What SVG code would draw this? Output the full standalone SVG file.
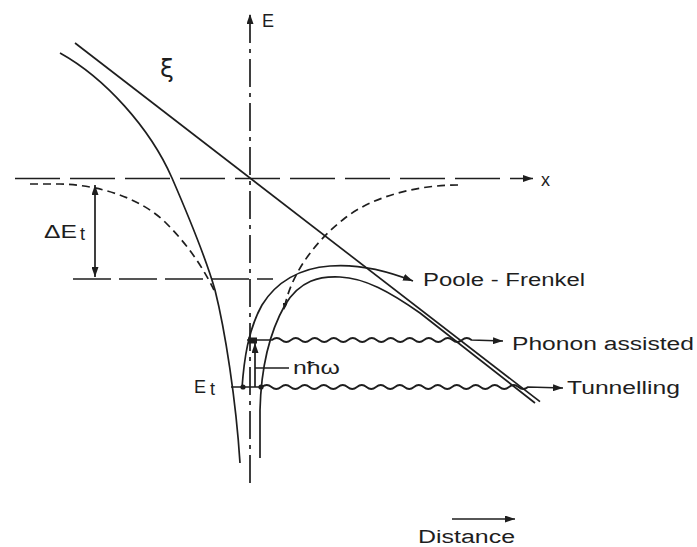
<svg xmlns="http://www.w3.org/2000/svg" width="697" height="547" viewBox="0 0 697 547">
<style>
  .ln{fill:none;stroke:#1e1e1e;stroke-width:1.7;stroke-linecap:butt}
  .dash{stroke-dasharray:8 5}
  .axis-x{stroke-dasharray:45 10}
  .axis-e{stroke-dasharray:28 6 4 6}
  .lvl{stroke-dasharray:38 8}
  .txt{font-family:"Liberation Sans","DejaVu Sans",Arial,sans-serif;fill:#1e1e1e;font-size:18px}
  .greek{font-family:"DejaVu Sans","Liberation Sans",sans-serif;fill:#1e1e1e}
  .dot{fill:#1e1e1e}
</style>
<defs>
  <marker id="ah" markerUnits="userSpaceOnUse" markerWidth="10" markerHeight="7" refX="10" refY="3.5" orient="auto-start-reverse">
    <path d="M0,0 L10,3.5 L0,7 z" fill="#1e1e1e"/>
  </marker>
  <marker id="ahs" markerUnits="userSpaceOnUse" markerWidth="7" markerHeight="5" refX="7" refY="2.5" orient="auto-start-reverse">
    <path d="M0,0 L7,2.5 L0,5 z" fill="#1e1e1e"/>
  </marker>
</defs>
<rect width="697" height="547" fill="#ffffff"/>

<g id="axes">
  <path class="ln axis-e" d="M250,483 L250,14" marker-end="url(#ah)"/>
  <path class="ln axis-x" d="M15,178.5 L533,178.5" marker-end="url(#ah)"/>
  <path class="ln lvl" d="M73,279 L273,279"/>
</g>

<g id="connectors">
  <path id="xi-line" class="ln" d="M75,43 L540,401.7"/>
  <path id="left-solid" class="ln" d="M60,53 C105,78 150,128 172,178 C185,208 205,255 215,290 C225,330 236,400 240,463"/>
  <path id="left-dashed" class="ln dash" d="M30,184 L60,184 C100,185 140,198 165,222 C185,242 200,262 214,290"/>
  <path id="right-dashed" class="ln dash" d="M458,185 C420,185 375,195 345,218 C315,241 290,275 284,310" marker-end="url(#ahs)"/>
  <path id="outer-curve" class="ln" d="M242,388 C244,360 248,330 262,305 C276,282 300,268 330,266 C355,264 385,270 413,281" marker-end="url(#ah)"/>
  <path id="inner-curve" class="ln" d="M260,458 L260,410 C261,370 268,335 285,305 C300,280 320,276 340,277 C365,278 390,292 420,313 L535,403"/>
  <path id="dEt-arrow" class="ln" d="M95,185 L95,277" marker-start="url(#ah)" marker-end="url(#ah)"/>
  <path id="phonon-path" class="ln" d="M247,340 L272,340 q4.75,-4 9.5,0 t9.5,0 t9.5,0 t9.5,0 t9.5,0 t9.5,0 t9.5,0 t9.5,0 t9.5,0 t9.5,0 t9.5,0 t9.5,0 t9.5,0 t9.5,0 t9.5,0 t9.5,0 t9.5,0 t9.5,0 t9.5,0 t9.5,0 t9.5,0 L503,341" marker-end="url(#ah)"/>
  <path id="tunnel-path" class="ln" d="M231,387 L262,387 q4.75,-4 9.5,0 t9.5,0 t9.5,0 t9.5,0 t9.5,0 t9.5,0 t9.5,0 t9.5,0 t9.5,0 t9.5,0 t9.5,0 t9.5,0 t9.5,0 t9.5,0 t9.5,0 t9.5,0 t9.5,0 t9.5,0 t9.5,0 t9.5,0 t9.5,0 t9.5,0 t9.5,0 t9.5,0 t9.5,0 t9.5,0 t9.5,0 t9.5,0 L563,388" marker-end="url(#ah)"/>
  <path id="nhw-arrow" class="ln" d="M255,387 L255,343" marker-end="url(#ah)"/>
  <path id="nhw-tick" class="ln" d="M255,368 L289,368"/>
  <path id="distance-arrow" class="ln" d="M452,519 L515,519" marker-end="url(#ah)"/>
</g>

<g id="markers">
  <circle class="dot" cx="243" cy="387" r="2.6"/>
  <circle class="dot" cx="261" cy="387" r="2.6"/>
  <rect class="dot" x="248" y="337.5" width="9" height="6"/>
</g>

<g id="labels">
  <text id="lbl-E" class="txt" x="262" y="27" font-size="17">E</text>
  <text id="lbl-x" class="txt" x="541" y="186" font-size="20">x</text>
  <text id="lbl-xi" class="greek" x="160" y="77" font-size="25">ξ</text>
  <g id="lbl-dEt"><text class="txt" x="44" y="238" font-size="19" textLength="33" lengthAdjust="spacingAndGlyphs">ΔE</text><text class="txt" x="80" y="240" font-size="12">t</text></g>
  <g id="lbl-Et"><text class="txt" x="194" y="393" font-size="19">E</text><text class="txt" x="210" y="395" font-size="12">t</text></g>
  <text id="lbl-nhw" class="txt" x="293" y="374" font-size="20" textLength="47" lengthAdjust="spacingAndGlyphs">nħω</text>
  <text id="lbl-pf" class="txt" x="423" y="286" textLength="162" lengthAdjust="spacingAndGlyphs">Poole - Frenkel</text>
  <text id="lbl-pa" class="txt" x="512" y="350" textLength="182" lengthAdjust="spacingAndGlyphs">Phonon  assisted</text>
  <text id="lbl-tn" class="txt" x="567" y="394" textLength="113" lengthAdjust="spacingAndGlyphs">Tunnelling</text>
  <text id="lbl-dist" class="txt" x="418" y="543" textLength="97" lengthAdjust="spacingAndGlyphs">Distance</text>
</g>
</svg>
